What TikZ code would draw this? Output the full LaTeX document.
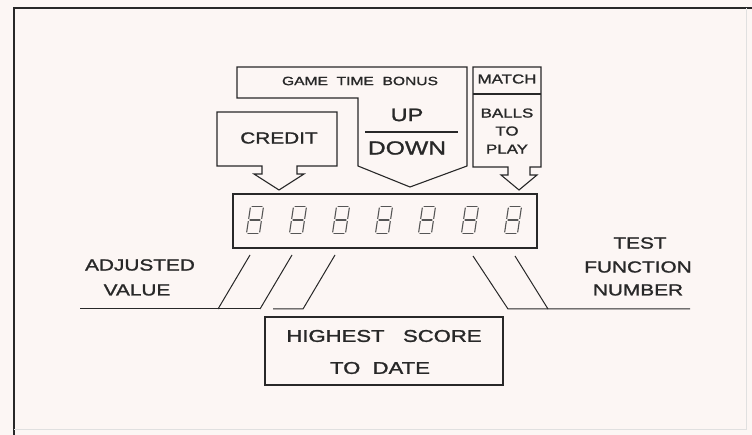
\documentclass[tikz,border=0pt]{standalone}
\usepackage{fontspec}
\setmainfont{Liberation Sans}[FakeStretch=1.3,FakeBold=1.4]
\usetikzlibrary{positioning,calc}
\definecolor{PaperTint}{RGB}{252,246,244}
\definecolor{InkGray}{RGB}{40,40,40}
\definecolor{SegGray}{RGB}{85,85,85}
\tikzset{
  outline/.style={draw=InkGray,line width=1.1pt,line join=miter},
  lead/.style={draw=InkGray,line width=1pt},
  seg/.style={draw=SegGray,line width=1.1pt,line cap=round},
  tag/.style={inner sep=0pt,align=center,text=InkGray},
  smalltag/.style={tag,font=\fontsize{12}{14}\selectfont},
  midtag/.style={tag,font=\fontsize{13}{18}\selectfont},
  sidetag/.style={tag,font=\fontsize{16}{24}\selectfont},
  bigtag/.style={tag,font=\fontsize{17}{33}\selectfont}
}

\begin{document}
\begin{tikzpicture}[x=1pt,y=-1pt]
  \useasboundingbox (0,0) rectangle (752,435);
  \fill[PaperTint] (0,0) rectangle (752,435);
  % frame
  \draw[InkGray,line width=1.4pt] (752,8) -- (14,8) -- (14,435);
  \draw[black!12,line width=1pt] (746,8) -- (746,429) -- (14,429);

  % callout boxes above the display
  \draw[outline] (237,67) -- (467,67) -- (467,166) -- (410,187) -- (358,166)
    -- (358,98) -- (237,98) -- cycle;
  \draw[outline] (365,132) -- (458,132);
  \draw[outline] (217,112) -- (337,112) -- (337,166) -- (297,166) -- (297,174)
    -- (304,174) -- (279,190) -- (254,174) -- (262,174) -- (262,166)
    -- (217,166) -- cycle;
  \draw[outline] (473,67) -- (541,67) -- (541,167) -- (530,167) -- (530,175)
    -- (537,175) -- (519,190) -- (501,175) -- (508,175) -- (508,167)
    -- (473,167) -- cycle;
  \draw[outline] (473,94) -- (541,94);

  \node[smalltag] (bonus) at (360,81) {GAME\ \ TIME\ \ BONUS};
  \node[tag,font=\fontsize{18}{20}\selectfont] (up) at (407,115) {UP};
  \node[tag,font=\fontsize{19}{20}\selectfont] (down) at (407,148) {DOWN};
  \node[sidetag] (credit) at (279,138) {CREDIT};
  \node[midtag] (match) at (507,79) {MATCH};
  \node[midtag] (balls) at (507,131) {BALLS\\TO\\PLAY};

  % display with seven digits
  \node[outline,minimum width=304pt,minimum height=54pt] (disp) at (385,221) {};
  \foreach \dx in {255,298,341,384,427,470,513} {
    \begin{scope}[shift={(\dx,220)},xslant=0.15]
      \draw[seg] (-5,-13.5) -- (5,-13.5);
      \draw[seg] (-6.5,-12) -- (-6.5,-1.5);
      \draw[seg] (6.5,-12) -- (6.5,-1.5);
      \draw[seg] (-5,0) -- (5,0);
      \draw[seg] (-6.5,1.5) -- (-6.5,12);
      \draw[seg] (6.5,1.5) -- (6.5,12);
      \draw[seg] (-5,13.5) -- (5,13.5);
    \end{scope}
  }

  % leads below the display
  \coordinate (la) at (250,255);
  \coordinate (lb) at (292,255);
  \coordinate (lc) at (335,255);
  \coordinate (ra) at (473,256);
  \coordinate (rb) at (515,256);
  \draw[lead] (80,309) -- (260,309);
  \draw[lead] (la) -- (218,309);
  \draw[lead] (lb) -- (260,309);
  \draw[lead] (lc) -- (303,309) -- (273,309);
  \draw[lead] (ra) -- (508,309) -- (690,309);
  \draw[lead] (rb) -- (548,309);

  \node[sidetag] (adjusted) at (140,265) {ADJUSTED};
  \node[sidetag] (value) at (137,290) {VALUE};
  \node[sidetag] (test) at (640,243) {TEST};
  \node[sidetag] (function) at (638,267) {FUNCTION};
  \node[sidetag] (number) at (638,290) {NUMBER};

  \node[outline,minimum width=238pt,minimum height=68pt] (score) at (384,351) {};
  \node[bigtag] (highest) at (384,336) {HIGHEST\ \ \ SCORE};
  \node[bigtag] (todate) at (380,368) {TO\ \ DATE};
\end{tikzpicture}
\end{document}
